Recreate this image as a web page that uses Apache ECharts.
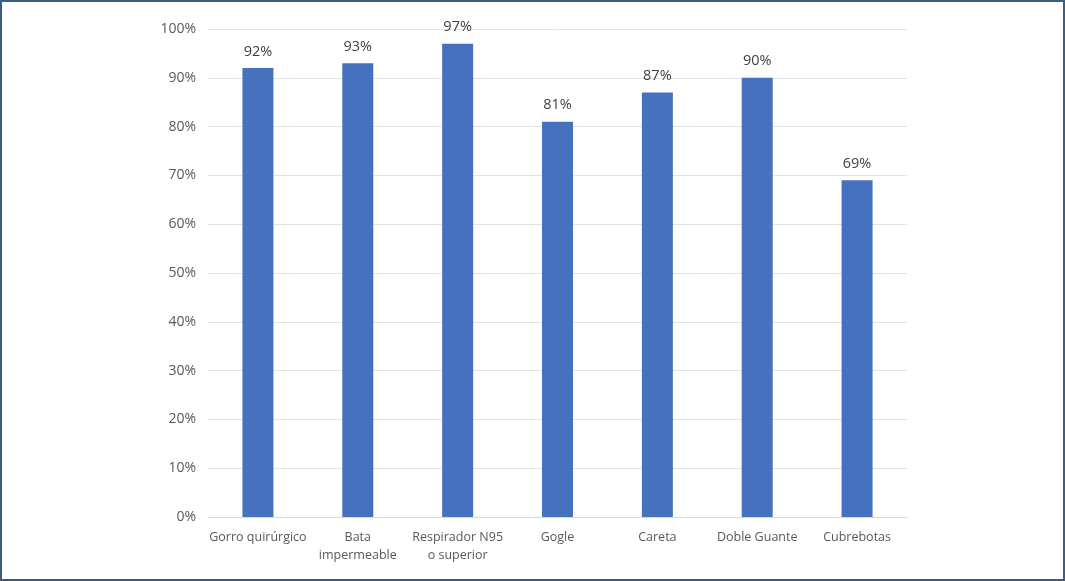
<!DOCTYPE html>
<html>
<head>
<meta charset="utf-8">
<script src="https://cdn.jsdelivr.net/npm/echarts@6/dist/echarts.min.js"></script>
<style>
html,body{margin:0;padding:0;background:#fff;}
#frame{position:absolute;left:0;top:0;width:1061px;height:577px;border:2px solid #3b5d7e;}
#chart{position:absolute;left:0;top:0;width:1065px;height:581px;}
</style>
</head>
<body>
<div id="frame"></div>
<div id="chart"></div>
<script>
const categories = ["Gorro quirúrgico", "Bata\nimpermeable", "Respirador N95\no superior", "Gogle", "Careta", "Doble Guante", "Cubrebotas"];
const values = [92, 93, 97, 81, 87, 90, 69];
const yTicks = [0, 10, 20, 30, 40, 50, 60, 70, 80, 90, 100];

const chart = echarts.init(document.getElementById('chart'));
chart.setOption({
  animation: false,
  grid: {left: 208, right: 158, top: 29, bottom: 64, containLabel: false},
  xAxis: {
    type: 'category',
    data: categories,
    axisLine: {lineStyle: {color: '#d9d9d9'}},
    axisTick: {show: false},
    axisLabel: {color: '#595959', fontSize: 12.5, fontFamily: 'Open Sans, sans-serif', margin: 11, lineHeight: 18, interval: 0}
  },
  yAxis: {
    type: 'value',
    min: 0, max: 100, interval: 10,
    axisLine: {show: false},
    axisTick: {show: false},
    splitLine: {lineStyle: {color: '#e3e3e3'}},
    axisLabel: {color: '#595959', fontSize: 14, fontFamily: 'Open Sans, sans-serif', margin: 12,
      formatter: v => yTicks.includes(v) ? v + '%' : ''}
  },
  series: [{
    type: 'bar',
    data: values,
    barWidth: 31,
    itemStyle: {color: '#4571be'},
    label: {show: true, position: 'top', distance: 9, color: '#404040', fontSize: 14.5, fontFamily: 'Open Sans, sans-serif', formatter: p => p.value + '%'}
  }]
});
</script>
</body>
</html>
